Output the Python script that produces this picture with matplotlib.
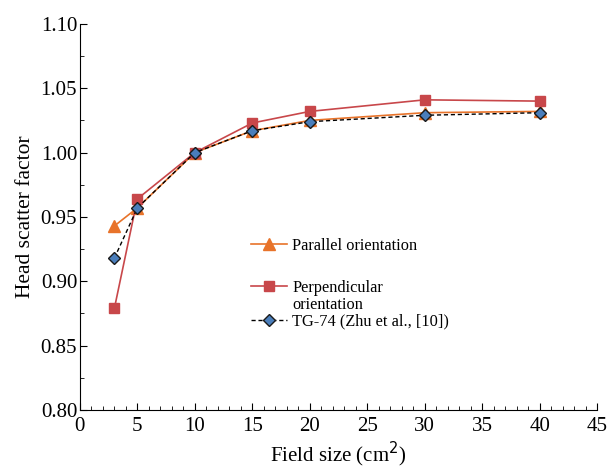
import matplotlib
matplotlib.use('Agg')
import matplotlib.pyplot as plt
from matplotlib.ticker import MultipleLocator
from matplotlib.lines import Line2D

plt.rcParams['font.family'] = ['Liberation Serif', 'DejaVu Serif']

field = [3, 5, 10, 15, 20, 30, 40]
parallel = [0.943, 0.957, 1.000, 1.017, 1.025, 1.031, 1.032]
perpendicular = [0.879, 0.964, 1.000, 1.023, 1.032, 1.041, 1.040]
tg74 = [0.918, 0.957, 1.000, 1.017, 1.024, 1.029, 1.031]

fig = plt.figure(figsize=(6.1, 4.69), dpi=100)
ax = fig.add_axes([0.131, 0.126, 0.848, 0.823])

l1, = ax.plot(field, parallel, color='#E8732A', marker='^', markersize=8, lw=1.2)
l2, = ax.plot(field, perpendicular, color='#C8474A', marker='s', markersize=7, lw=1.2)
l3, = ax.plot(field, tg74, color='black', ls=(0, (3, 2)), lw=1.0, marker='D', markersize=6,
              markerfacecolor='#4A7EBB', markeredgecolor='#1a1a1a', markeredgewidth=1.0)

ax.set_xlim(0, 45)
ax.set_ylim(0.80, 1.10)
ax.xaxis.set_major_locator(MultipleLocator(5))
ax.xaxis.set_minor_locator(MultipleLocator(1))
ax.yaxis.set_major_locator(MultipleLocator(0.05))
ax.yaxis.set_minor_locator(MultipleLocator(0.025))
ax.tick_params(which='both', direction='in', labelsize=15)
ax.tick_params(which='major', length=5)
ax.tick_params(which='minor', length=3)
ax.tick_params(axis='x', pad=5)
ax.tick_params(axis='y', pad=2)
ax.yaxis.set_major_formatter(plt.FuncFormatter(lambda v, p: '%.2f' % v))
for s in ['top', 'right']:
    ax.spines[s].set_visible(False)

ax.set_xlabel('Field size (cm$^2$)', fontsize=15, labelpad=3)
ax.set_ylabel('Head scatter factor', fontsize=15.5)

# legend split in two so the two-line label keeps its handle on the first line
kw = dict(frameon=False, fontsize=11.8, handlelength=2.2, handletextpad=0.3,
          borderpad=0, borderaxespad=0, loc='center left')
leg1 = ax.legend([l1], ['Parallel orientation'], bbox_to_anchor=(0.331, 0.425), **kw)
ax.add_artist(leg1)
blank = Line2D([], [], linestyle='none')
ax.legend([l2, blank, l3], ['Perpendicular', 'orientation', 'TG-74 (Zhu et al., [10])'],
          bbox_to_anchor=(0.331, 0.273), labelspacing=0.05, **kw)

fig.savefig('out.png', dpi=100)
